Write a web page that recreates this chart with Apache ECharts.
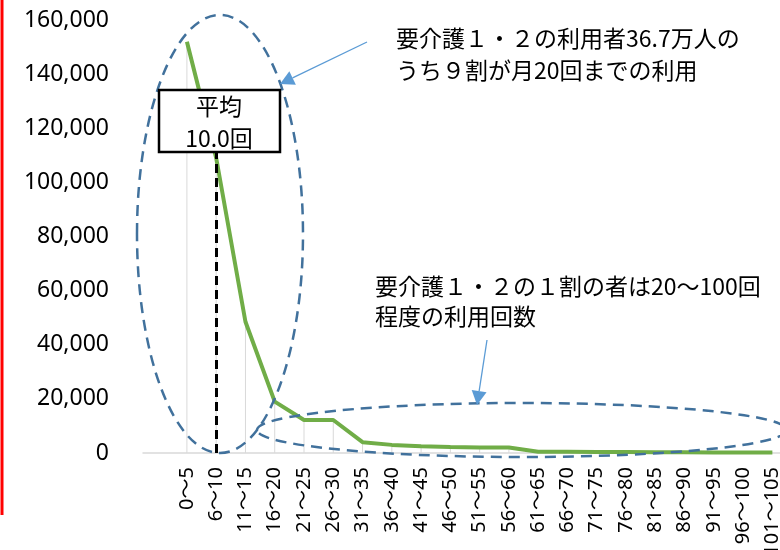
<!DOCTYPE html>
<html>
<head>
<meta charset="utf-8">
<script src="https://cdn.jsdelivr.net/npm/echarts@6/dist/echarts.min.js"></script>
<style>
html,body{margin:0;padding:0;background:#fff;}
#chart{width:780px;height:550px;}
</style>
</head>
<body>
<div id="chart"></div>
<script>
// ---- data ----
var categories = ['0～5','6～10','11～15','16～20','21～25','26～30','31～35','36～40','41～45','46～50','51～55','56～60','61～65','66～70','71～75','76～80','81～85','86～90','91～95','96～100','101～105'];
var users = [152000,109000,48500,19000,12200,12200,4000,3000,2500,2200,2000,2000,500,450,400,350,300,250,200,150,150];
var yTicks = [0,20000,40000,60000,80000,100000,120000,140000,160000];
var averageCategory = '6～10';
var averageLabel = '平均\n10.0回';
var averageLineTop = 111000;
var note1 = '要介護１・２の利用者36.7万人の\nうち９割が月20回までの利用';
var note2 = '要介護１・２の１割の者は20～100回\n程度の利用回数';

// leading empty slot so the first category sits one band from the axis start
var axisCats = [''].concat(categories);
var axisVals = ['-'].concat(users);

var JP = "'Noto Sans CJK JP', 'Noto Sans', sans-serif";
var LAT = "'Noto Sans', 'Noto Sans CJK JP', sans-serif";
var ellipseColor = '#41719c';
var arrowColor = '#5b9bd5';

function arrow(x1, y1, x2, y2, headLen, headW) {
  var dx = x2 - x1, dy = y2 - y1, L = Math.sqrt(dx*dx + dy*dy);
  var ux = dx / L, uy = dy / L;
  var bx = x2 - ux * headLen, by = y2 - uy * headLen;
  var px = -uy * headW / 2, py = ux * headW / 2;
  return [
    {type:'line', z:100, shape:{x1:x1, y1:y1, x2:bx, y2:by}, style:{stroke:arrowColor, lineWidth:1.3}},
    {type:'polygon', z:100, shape:{points:[[x2,y2],[bx+px,by+py],[bx-px,by-py]]}, style:{fill:arrowColor}}
  ];
}

var chart = echarts.init(document.getElementById('chart'), null, {renderer:'canvas'});
var graphics = [
  {type:'line', z:100, shape:{x1:2, y1:0, x2:2, y2:515}, style:{stroke:'#ff0000', lineWidth:3}},
  {type:'ellipse', z:100, shape:{cx:220, cy:234, rx:83, ry:219}, style:{fill:'none', stroke:ellipseColor, lineWidth:2.5, lineDash:[11,7]}},
  {type:'ellipse', z:100, shape:{cx:522, cy:430, rx:265, ry:27}, style:{fill:'none', stroke:ellipseColor, lineWidth:2.5, lineDash:[11,7]}},
  {type:'rect', z:110, shape:{x:159, y:90, width:121, height:62}, style:{fill:'#fff', stroke:'#000', lineWidth:2.5}},
  {type:'text', z:111, x:219, y:90, style:{text:averageLabel, align:'center', verticalAlign:'top', fontSize:23, lineHeight:32, fontFamily:JP, fill:'#000'}},
  {type:'text', z:100, x:396, y:22, style:{text:note1, fontSize:23, lineHeight:32, fontFamily:JP, fill:'#000'}},
  {type:'text', z:100, x:375, y:271, style:{text:note2, fontSize:23, lineHeight:30, fontFamily:JP, fill:'#000'}}
].concat(arrow(367, 42, 280, 84, 14, 15)).concat(arrow(487, 340, 477, 405, 14, 15));

chart.setOption({
  animation:false,
  backgroundColor:'#fff',
  grid:{left:143, right:-7, top:20, bottom:97, containLabel:false, outerBoundsMode:'none'},
  xAxis:{
    type:'category', data:axisCats, boundaryGap:true,
    axisLine:{show:true, lineStyle:{color:'#d9d9d9', width:1.5}},
    axisTick:{show:false},
    axisLabel:{interval:0, rotate:90, margin:14, fontSize:20, fontFamily:LAT, color:'#000'},
    splitLine:{show:false}
  },
  yAxis:{
    type:'value', min:yTicks[0], max:yTicks[yTicks.length-1], interval:yTicks[1]-yTicks[0],
    axisLine:{show:false}, axisTick:{show:false}, splitLine:{show:false},
    axisLabel:{margin:34, fontSize:23, fontFamily:LAT, color:'#000',
      formatter:function(v){return v.toLocaleString('en-US');}}
  },
  series:[
    {type:'bar', data:axisVals, barWidth:1, itemStyle:{color:'#d9d9d9'}, silent:true, z:1},
    {type:'line', data:axisVals, symbol:'none', lineStyle:{color:'#70ad47', width:4}, itemStyle:{color:'#70ad47'}, z:3,
      markLine:{silent:true, symbol:'none', label:{show:false},
        lineStyle:{color:'#000', width:3, type:[9,5]},
        data:[[{coord:[averageCategory,0]},{coord:[averageCategory,averageLineTop]}]]}
    }
  ],
  graphic:graphics
});
</script>
</body>
</html>
